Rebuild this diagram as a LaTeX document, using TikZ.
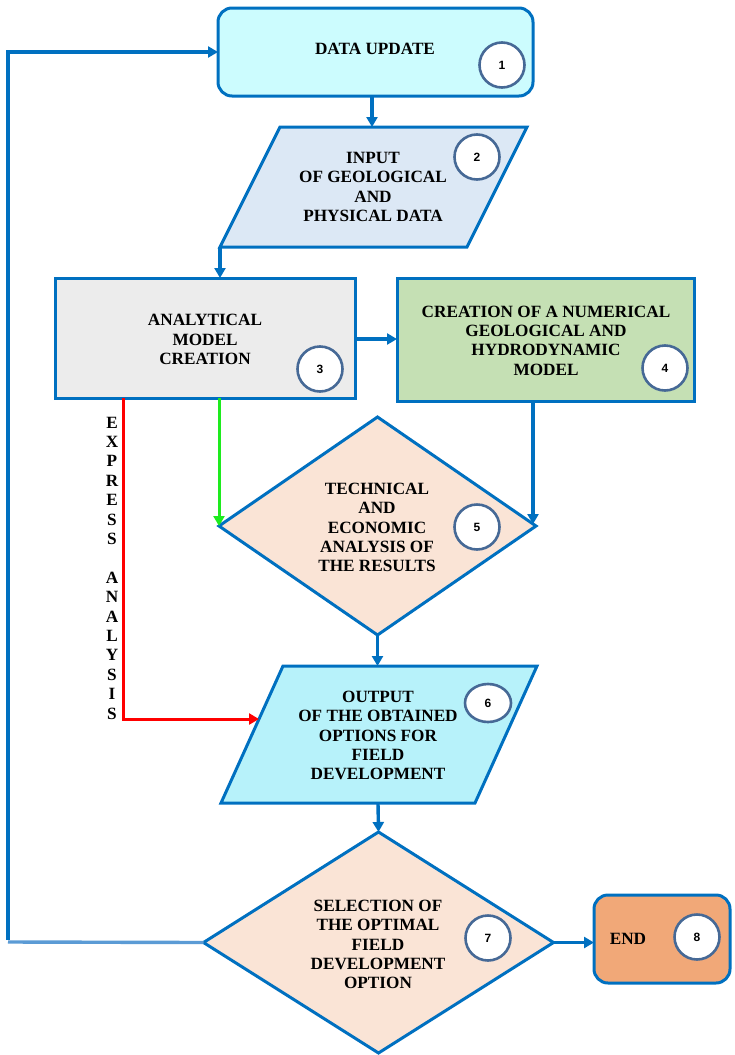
\documentclass[tikz,border=0pt]{standalone}
\usepackage{fontspec}
\setmainfont{Liberation Serif}
\newfontfamily\numfont{Liberation Sans}
\usetikzlibrary{arrows.meta,shapes.geometric}
\definecolor{bord}{RGB}{0,112,192}
\definecolor{fbone}{RGB}{204,252,254}
\definecolor{fbtwo}{RGB}{220,232,245}
\definecolor{fbthree}{RGB}{236,236,236}
\definecolor{fbfour}{RGB}{197,224,180}
\definecolor{fdia}{RGB}{250,228,214}
\definecolor{fbsix}{RGB}{183,242,250}
\definecolor{fend}{RGB}{241,168,120}
\definecolor{cnum}{RGB}{70,105,150}
\definecolor{lightfb}{RGB}{91,155,213}
\definecolor{greenl}{RGB}{30,235,30}
\tikzset{
  shapeline/.style={draw=bord, line width=3pt},
  boxsh/.style={shapeline, rectangle, inner sep=0pt, outer sep=0pt},
  diash/.style={shapeline, diamond, inner sep=0pt, outer sep=0pt, fill=fdia},
  txt/.style={align=center, inner sep=0pt, font=\fontsize{17.2}{19.4}\selectfont\bfseries},
  numc/.style={circle, draw=cnum, line width=2.6pt, fill=white, minimum size=45pt, inner sep=0pt, font=\numfont\bfseries\fontsize{12}{12}\selectfont},
  tipa/.style={-{Triangle[length=10pt,width=11pt]}},
  conn/.style={draw=bord, line width=3.4pt},
  arr/.style={conn, tipa},
  redarr/.style={draw=red, line width=3pt, tipa},
  greenarr/.style={draw=greenl, line width=3pt, tipa}
}
\begin{document}
\begin{tikzpicture}[x=1pt,y=-1pt]
\useasboundingbox (0,0) rectangle (735,1055);

% box 1
\node[boxsh, fill=fbone, rounded corners=14pt, minimum width=315pt, minimum height=88pt] (b1) at (375.5,52) {};
\node[txt] (t1) at (375,49) {DATA UPDATE};
\node[numc] (n1) at (502,65) {1};

% parallelogram 2
\coordinate (p2a) at (280,127);
\coordinate (p2b) at (527,127);
\coordinate (p2c) at (467,247);
\coordinate (p2d) at (220,247);
\coordinate (p2top) at (372,127);
\draw[shapeline, fill=fbtwo] (p2a) -- (p2b) -- (p2c) -- (p2d) -- cycle;
\node[txt] (t2) at (373,187) {INPUT\\OF GEOLOGICAL\\AND\\PHYSICAL DATA};
\node[numc] (n2) at (477,157) {2};

% box 3
\node[boxsh, fill=fbthree, minimum width=300pt, minimum height=120pt] (b3) at (205,338) {};
\node[txt] (t3) at (205,339.5) {ANALYTICAL\\MODEL\\CREATION};
\node[numc] (n3) at (320,369) {3};

% box 4
\node[boxsh, fill=fbfour, minimum width=297pt, minimum height=123pt] (b4) at (545.5,339.5) {};
\node[txt] (t4) at (546,340.5) {CREATION OF A NUMERICAL\\GEOLOGICAL AND\\HYDRODYNAMIC\\MODEL};
\node[numc] (n4) at (665,368) {4};

% diamond 5
\node[diash, minimum width=317pt, minimum height=218pt] (d5) at (377.5,526) {};
\node[txt] (t5) at (377,527.5) {TECHNICAL\\AND\\ECONOMIC\\ANALYSIS OF\\THE RESULTS};
\node[numc] (n5) at (477,527) {5};

% parallelogram 6
\coordinate (p6a) at (283,666);
\coordinate (p6b) at (537,666);
\coordinate (p6c) at (475,803);
\coordinate (p6d) at (221,803);
\coordinate (p6top) at (377.5,666);
\coordinate (p6bot) at (378,803);
\coordinate (p6l) at (259,719);
\draw[shapeline, fill=fbsix] (p6a) -- (p6b) -- (p6c) -- (p6d) -- cycle;
\node[txt] (t6) at (378,735.5) {OUTPUT\\OF THE OBTAINED\\OPTIONS FOR\\FIELD\\DEVELOPMENT};
\node[numc, ellipse, minimum width=46pt, minimum height=38pt] (n6) at (488,703) {6};

% diamond 7
\node[diash, minimum width=350pt, minimum height=221pt] (d7) at (378.5,942.5) {};
\node[txt] (t7) at (378,944.5) {SELECTION OF\\THE OPTIMAL\\FIELD\\DEVELOPMENT\\OPTION};
\node[numc] (n7) at (488,938) {7};

% end box
\node[boxsh, fill=fend, rounded corners=14pt, minimum width=136pt, minimum height=88pt] (b8) at (662,939) {};
\node[txt] (t8) at (628,939) {END};
\node[numc] (n8) at (697,937) {8};

% express analysis label
\node[txt] (ex) at (112,568) {E\\X\\P\\R\\E\\S\\S\\[19.4pt]A\\N\\A\\L\\Y\\S\\I\\S};

% connectors
\coordinate (c3top) at (220,278);
\coordinate (gx) at (219,526);
\coordinate (bx) at (533,524);
\coordinate (rx) at (123,719);
\coordinate (fbl) at (8,942);
\coordinate (ftl) at (8,52);

\draw[arr] (b1.south -| p2top) -- (p2top);
\draw[arr] (p2d) -- (c3top);
\draw[arr] (b3.east |- 0,339) -- (b4.west |- 0,339);
\draw[greenarr] (b3.south -| gx) -- (gx);
\draw[arr] (b4.south -| bx) -- (bx);
\draw[arr] (d5.south) -- (p6top);
\draw[redarr] (b3.south -| rx) -- (rx) -- (p6l);
\draw[arr] (p6bot) -- (d7.north);
\draw[arr] (d7.east) -- (b8.west |- d7.east);
\draw[draw=lightfb, line width=3.4pt] (d7.west) -- (fbl);
\draw[arr] (8,940) -- (ftl) -- (b1.west);
\end{tikzpicture}
\end{document}
